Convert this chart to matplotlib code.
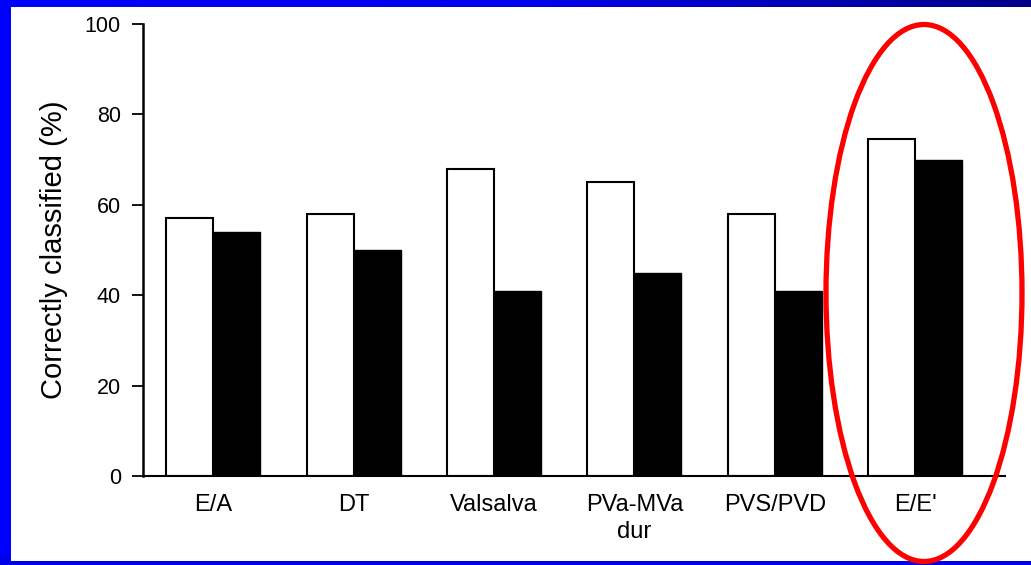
import matplotlib
matplotlib.use("Agg")
import matplotlib.pyplot as plt
import numpy as np
from matplotlib.patches import Ellipse, Rectangle
from matplotlib.colors import LinearSegmentedColormap

categories = ["E/A", "DT", "Valsalva", "PVa-MVa\ndur", "PVS/PVD", "E/E'"]
white_vals = [57, 58, 68, 65, 58, 74.5]
black_vals = [54, 50, 41, 45, 41, 70]
yticks = [0, 20, 40, 60, 80, 100]

plt.rcParams['font.family'] = ['Liberation Sans', 'DejaVu Sans']

W, H = 1031, 565
fig = plt.figure(figsize=(W / 100, H / 100), dpi=100)
fig.patch.set_facecolor('#0000FF')

# slide background
bg = fig.add_axes([0, 0, 1, 1], zorder=-10)
bg.set_axis_off()
grad = np.linspace(0, 1, 256)[None, :]
cmap = LinearSegmentedColormap.from_list('b', ['#0000FF', '#0000F0', '#000088'])
bg.imshow(grad, extent=[0, 1, 0, 1], aspect='auto', cmap=cmap)
bg.set_xlim(0, 1)
bg.set_ylim(0, 1)
bg.add_patch(Rectangle((0, 0), 11 / W, 1, color='#0000FF', lw=0))
bg.add_patch(Rectangle((0, 0), 1, 10 / H, color='#0000E8', lw=0))
bg.add_patch(Rectangle((11 / W, 4 / H), 1 - 11 / W, (561 - 7) / H, color='white', lw=0))

ax = fig.add_axes([143 / W, 89 / H, (1005 - 143) / W, (476 - 24) / H])
ax.patch.set_alpha(0)
x = np.arange(len(categories))
bw = 0.335
ax.bar(x - bw / 2, white_vals, bw, color='white', edgecolor='black', linewidth=1.5)
ax.bar(x + bw / 2, black_vals, bw, color='black', edgecolor='black', linewidth=1.0)

ax.set_xlim(-0.5, 5.64)
ax.set_ylim(0, 100)
ax.set_yticks(yticks)
ax.set_yticklabels([str(v) for v in yticks], fontsize=15.5)
ax.set_xticks(x)
ax.set_xticklabels(categories, fontsize=17, linespacing=1.3)
ax.tick_params(axis='x', length=0, pad=13)
ax.tick_params(axis='y', length=8, width=1.3, direction='out', pad=8)
for s in ['top', 'right']:
    ax.spines[s].set_visible(False)
ax.spines['left'].set_linewidth(1.8)
ax.spines['bottom'].set_linewidth(1.5)
ax.set_ylabel('Correctly classified (%)', fontsize=21, labelpad=12)

ell = Ellipse((924 / W, 1 - 293 / H), 196 / W, 537 / H, transform=fig.transFigure,
              fill=False, edgecolor='#FF0000', linewidth=3.8, clip_on=False, zorder=20)
fig.patches.append(ell)

fig.savefig('out.png', dpi=100, facecolor=fig.get_facecolor())
